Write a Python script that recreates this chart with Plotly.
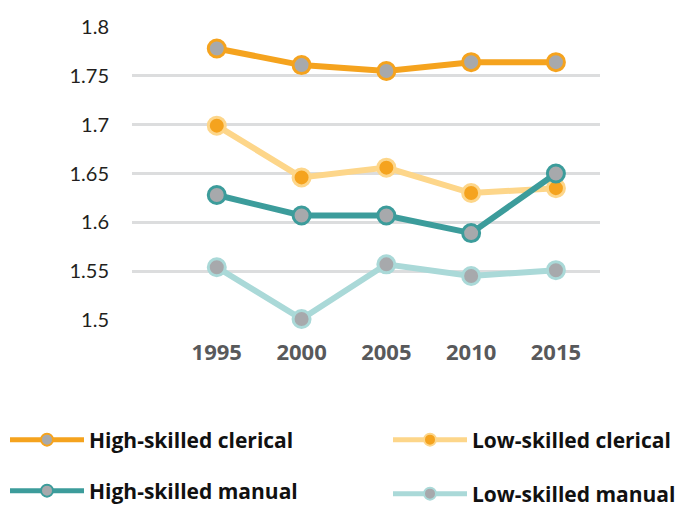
import plotly.graph_objects as go

years = [1995, 2000, 2005, 2010, 2015]
high_clerical = [1.778, 1.761, 1.755, 1.764, 1.764]
low_clerical = [1.699, 1.646, 1.656, 1.630, 1.635]
high_manual = [1.628, 1.607, 1.607, 1.589, 1.650]
low_manual = [1.554, 1.501, 1.557, 1.545, 1.551]
y_ticks = [1.5, 1.55, 1.6, 1.65, 1.7, 1.75, 1.8]
y_tick_text = ["1.5", "1.55", "1.6", "1.65", "1.7", "1.75", "1.8"]

FONT = "Open Sans"
GRAY_FILL = "#A7A9AC"

series = [
    ("High-skilled clerical", high_clerical, "#F5A31E", GRAY_FILL, "#F5A31E", "legend"),
    ("Low-skilled clerical", low_clerical, "#FDD68A", "#F5A31E", "#FDD68A", "legend2"),
    ("High-skilled manual", high_manual, "#3C9C9B", GRAY_FILL, "#3C9C9B", "legend3"),
    ("Low-skilled manual", low_manual, "#AAD9D8", GRAY_FILL, "#AAD9D8", "legend4"),
]

fig = go.Figure()
for name, vals, lc, fill, edge, lg in series:
    fig.add_trace(go.Scatter(
        x=years, y=vals, name=name, mode="lines+markers",
        line=dict(color=lc, width=6),
        marker=dict(size=17, color=fill, line=dict(color=edge, width=3)),
        cliponaxis=False, legend=lg,
    ))

# page body has an 8px margin; work in window pixels and compensate
OFF = 8
W, H = 692 - OFF, 509 - OFF
L, R, T, B = 132 - OFF, 92, 27 - OFF, 189
pw, ph = W - L - R, H - T - B

def px(x):
    return (x - OFF - L) / pw

def py(y):
    return (H - B - (y - OFF)) / ph

legend_common = dict(
    font=dict(family=FONT, size=21, color="#111111", weight="bold"),
    bgcolor="rgba(0,0,0,0)", itemwidth=74, itemsizing="constant",
    yanchor="middle", xanchor="left",
)

fig.update_layout(
    width=W, height=H,
    margin=dict(l=L, r=R, t=T, b=B, autoexpand=False),
    paper_bgcolor="white", plot_bgcolor="white",
    showlegend=True,
    legend=dict(x=px(5), y=py(440), **legend_common),
    legend2=dict(x=px(388), y=py(440), **legend_common),
    legend3=dict(x=px(5), y=py(491), **legend_common),
    legend4=dict(x=px(388), y=py(494), **legend_common),
    xaxis=dict(
        range=[1990, 2017.6], tickvals=years, ticktext=[str(y) for y in years],
        showgrid=False, zeroline=False, showline=False, ticks="",
        tickfont=dict(family=FONT, size=22, color="#58595B", weight="bold"),
        ticklabelstandoff=17,
    ),
    yaxis=dict(
        range=[1.5, 1.8], tickvals=y_ticks, ticktext=y_tick_text,
        showgrid=True, gridcolor="#DCDDDE", gridwidth=3,
        zeroline=False, showline=False, ticks="",
        tickfont=dict(family="Lato", size=20, color="#231F20"),
        ticklabelstandoff=22,
    ),
)

fig.write_html("out.html")
